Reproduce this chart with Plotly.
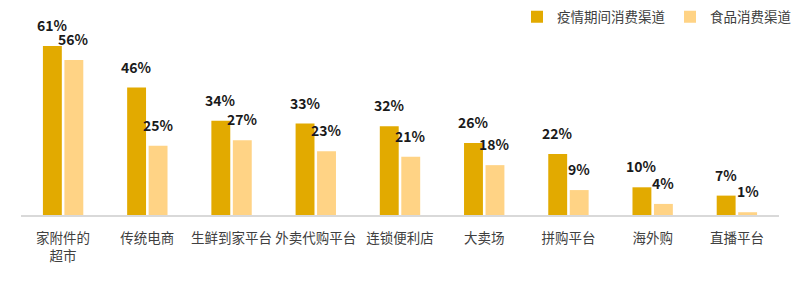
import plotly.graph_objects as go

categories = ["家附件的<br>超市", "传统电商", "生鲜到家平台", "外卖代购平台", "连锁便利店", "大卖场", "拼购平台", "海外购", "直播平台"]
epidemic = [61, 46, 34, 33, 32, 26, 22, 10, 7]
food = [56, 25, 27, 23, 21, 18, 9, 4, 1]
series_names = ["疫情期间消费渠道", "食品消费渠道"]
colors = ["#E2AA00", "#FFD385"]

FONT = "Noto Sans CJK SC, Microsoft YaHei, sans-serif"
W, H = 800, 297
ML, MR, MT, MB = 21, 21, 20, 82
BARGAP, GROUPGAP = 0.49, 0.12

fig = go.Figure()
for name, vals, col in zip(series_names, [epidemic, food], colors):
    fig.add_trace(go.Bar(x=categories, y=vals, name=name, marker=dict(color=col, line=dict(width=0))))

# value labels placed over each bar via the category axis plus a pixel shift
cat_px = (W - ML - MR) / len(categories)
slot = cat_px * (1 - BARGAP) / 2
shifts = [-slot / 2, slot / 2]
for vals, dx in zip([epidemic, food], shifts):
    for c, v in zip(categories, vals):
        fig.add_annotation(x=c, y=v, text=f"{v}%", showarrow=False,
                           xanchor="center", yanchor="bottom", xshift=dx, yshift=9,
                           font=dict(family=FONT, size=14, color="#1a1a1a", weight="bold"))

fig.update_layout(
    width=W, height=H,
    margin=dict(l=ML, r=MR, t=MT, b=MB, autoexpand=False),
    paper_bgcolor="white", plot_bgcolor="white",
    barmode="group", bargap=BARGAP, bargroupgap=GROUPGAP,
    font=dict(family=FONT, size=13.5, color="#404040"),
    showlegend=True,
    legend=dict(orientation="h", xref="container", yref="container",
                x=0.995, xanchor="right", y=0.995, yanchor="top",
                font=dict(family=FONT, size=13.5, color="#404040"),
                itemwidth=30, traceorder="normal", bgcolor="rgba(0,0,0,0)"),
)
fig.update_xaxes(showline=True, linecolor="#D9D9D9", linewidth=1.5, ticks="",
                 tickfont=dict(family=FONT, size=13.5, color="#404040"),
                 ticklabelstandoff=10, showgrid=False)
fig.update_yaxes(range=[0, 70.4], visible=False, showgrid=False, zeroline=False)

fig.write_html("out.html")
